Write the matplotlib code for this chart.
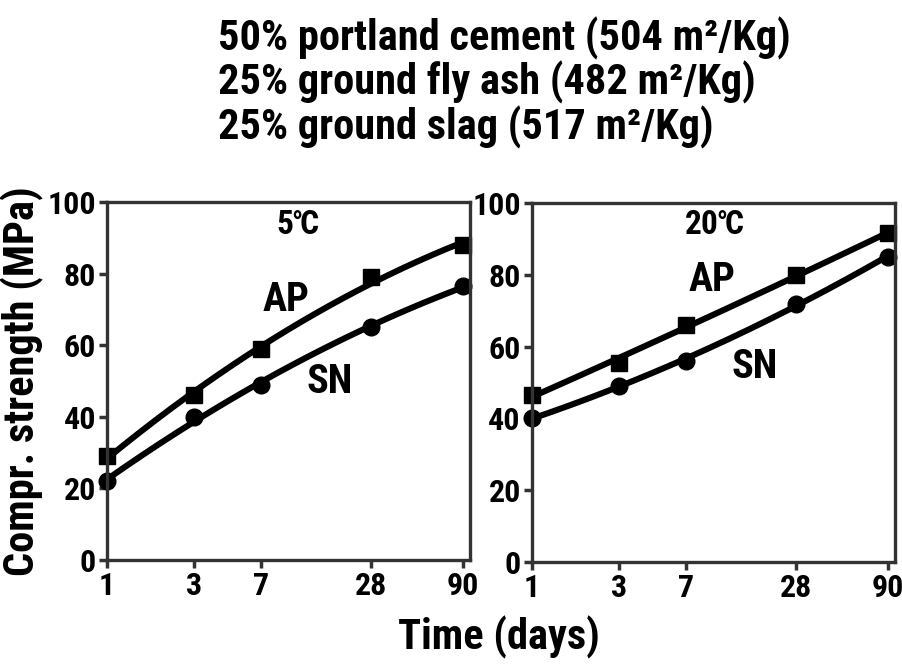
import numpy as np
import matplotlib.pyplot as plt
from matplotlib import font_manager

# pick a condensed bold face if one is installed
fonts = font_manager.fontManager.ttflist
names = {f.name for f in fonts}
stretch = 'normal'
base = 'Liberation Sans'
for cand in ['Liberation Sans Narrow', 'Arial Narrow', 'Roboto Condensed', 'Open Sans Condensed']:
    if cand in names:
        base = cand
        break
else:
    if any(f.name == 'DejaVu Sans' and f.stretch == 'condensed' for f in fonts):
        base = 'DejaVu Sans'
        stretch = 'condensed'
plt.rcParams['font.family'] = [base, 'DejaVu Sans']
plt.rcParams['font.weight'] = 'bold'
plt.rcParams['font.stretch'] = stretch

# data
days = [1, 3, 7, 28, 90]
tick_labels = ['1', '3', '7', '28', '90']
ap_5c = [29, 46, 59, 79, 88]
sn_5c = [22, 40, 49, 65, 76.5]
ap_20c = [46.5, 55.5, 66, 80, 91.5]
sn_20c = [40, 49, 56, 72, 85]
title_lines = ['50% portland cement (504 m²/Kg)',
               '25% ground fly ash (482 m²/Kg)',
               '25% ground slag (517 m²/Kg)']

fig = plt.figure(figsize=(9.03, 6.67), dpi=100)
ax1 = fig.add_axes([0.1185, 0.1604, 0.402, 0.5367])
ax2 = fig.add_axes([0.589, 0.1574, 0.402, 0.5383])

x_fine = np.logspace(0, np.log10(90), 200)

def draw_panel(ax, ap, sn, temp, ap_pos, sn_pos, t_pos):
    for vals, mk, ms in [(ap, 's', 11), (sn, 'o', 12)]:
        coef = np.polyfit(np.log10(days), vals, 2)
        ax.plot(x_fine, np.polyval(coef, np.log10(x_fine)), color='black', lw=4.4,
                solid_capstyle='round', clip_on=False)
        ax.plot(days, vals, mk, color='black', ms=ms, clip_on=False)
    ax.set_xscale('log')
    ax.set_xlim(1, 98)
    ax.set_ylim(0, 100)
    ax.set_xticks(days)
    ax.set_xticklabels(tick_labels)
    ax.minorticks_off()
    ax.set_yticks([0, 20, 40, 60, 80, 100])
    ax.tick_params(direction='out', length=6, width=2.5, labelsize=23, pad=2, color='#333333')
    for s in ax.spines.values():
        s.set_linewidth(2.4)
        s.set_color('#333333')
    ax.text(*ap_pos, 'AP', transform=ax.transAxes, ha='center', va='center', fontsize=29)
    ax.text(*sn_pos, 'SN', transform=ax.transAxes, ha='center', va='center', fontsize=29)
    ax.text(*t_pos, temp, transform=ax.transAxes, ha='center', va='center', fontsize=24)

draw_panel(ax1, ap_5c, sn_5c, '5℃', (0.493, 0.726), (0.614, 0.497), (0.526, 0.936))
draw_panel(ax2, ap_20c, sn_20c, '20℃', (0.496, 0.786), (0.614, 0.543), (0.504, 0.939))

ax1.set_ylabel('Compr. strength (MPa)', fontsize=30.5, fontweight='bold', labelpad=2)
fig.text(0.553, 0.045, 'Time (days)', ha='center', va='center', fontsize=30.5)

for i, line in enumerate(title_lines):
    fig.text(0.241, 1 - (38 + 44.5 * i) / 667, line, ha='left', va='center', fontsize=30.5)

fig.savefig('out.png', dpi=100)
